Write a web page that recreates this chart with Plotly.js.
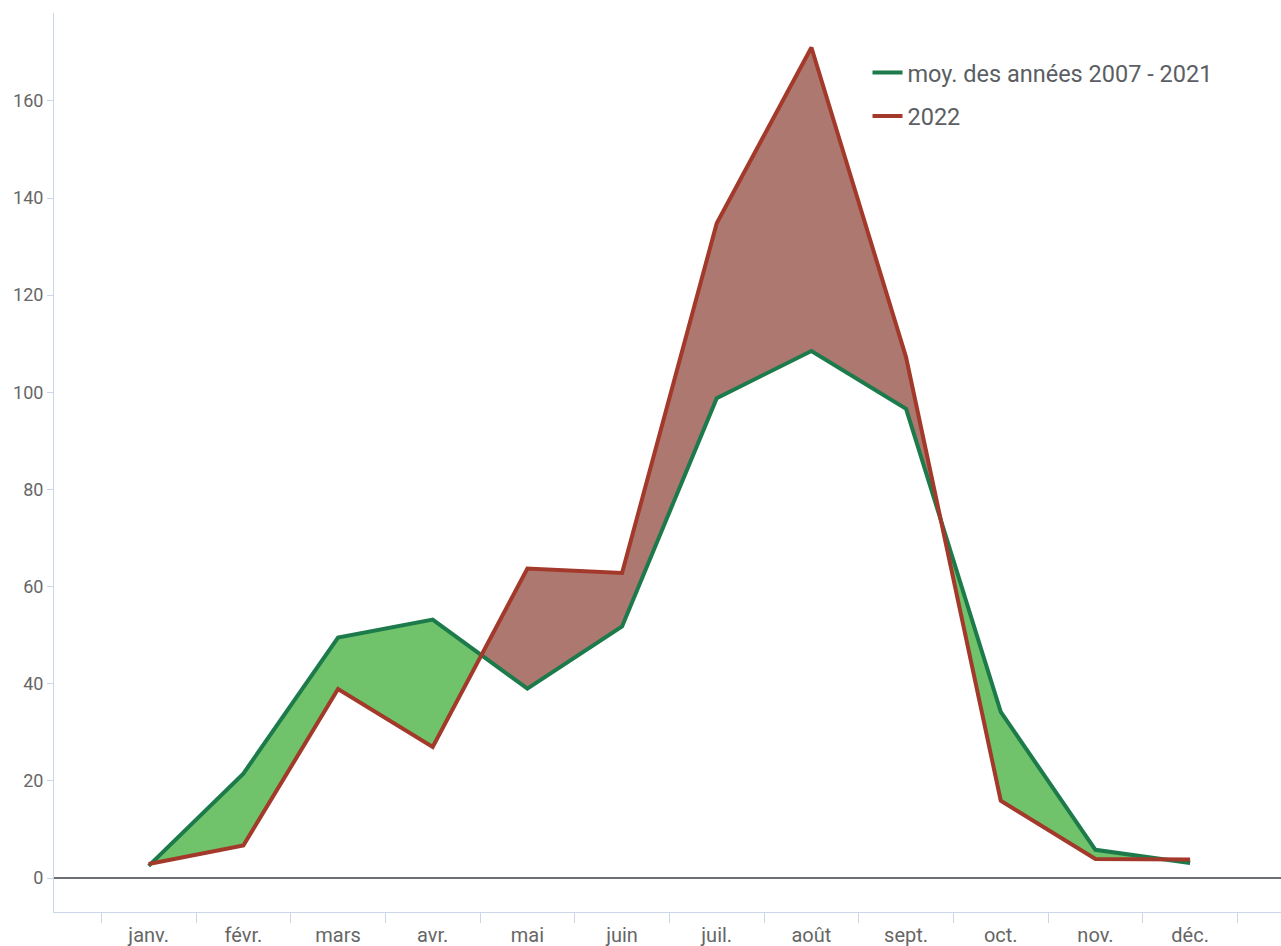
<!DOCTYPE html>
<html>
<head>
<meta charset="utf-8">
<script src="https://cdn.plot.ly/plotly-3.0.1.min.js"></script>
<style>
html,body{margin:0;padding:0;background:#fff;}
#chart{width:1281px;height:946px;}
</style>
</head>
<body>
<div id="chart"></div>
<script>
// ---- data ----
var months = ["janv.", "févr.", "mars", "avr.", "mai", "juin", "juil.", "août", "sept.", "oct.", "nov.", "déc."];
var avgName = "moy. des années 2007 - 2021";
var avgValues = [2.5, 21.5, 49.5, 53.2, 39, 51.8, 98.8, 108.5, 96.6, 34.2, 5.8, 3.1];
var y2022Name = "2022";
var y2022Values = [2.9, 6.7, 38.9, 27, 63.7, 62.8, 134.8, 171, 107.2, 15.9, 3.9, 3.8];
var yTicks = [0, 20, 40, 60, 80, 100, 120, 140, 160];

// ---- derived: month indices and crossing-aware fill arrays ----
var idx = months.map(function (m, i) { return i; });
var X = [], G = [], R = [];
for (var i = 0; i < idx.length; i++) {
  X.push(idx[i]); G.push(avgValues[i]); R.push(y2022Values[i]);
  if (i < idx.length - 1) {
    var d0 = avgValues[i] - y2022Values[i];
    var d1 = avgValues[i + 1] - y2022Values[i + 1];
    if (d0 * d1 < 0) {
      var t = d0 / (d0 - d1);
      var xc = idx[i] + t * (idx[i + 1] - idx[i]);
      var yc = avgValues[i] + t * (avgValues[i + 1] - avgValues[i]);
      X.push(xc); G.push(yc); R.push(yc);
    }
  }
}
var MIN = G.map(function (g, k) { return Math.min(g, R[k]); });

var greenLine = "#1c7a4b", greenFill = "#70c36a";
var redLine = "#a3392a", redFill = "#ad7870";
var clear = "rgba(0,0,0,0)";

var traces = [
  {x: X, y: MIN, mode: "lines", line: {width: 0, color: clear}, showlegend: false, hoverinfo: "skip"},
  {x: X, y: G, mode: "lines", line: {width: 0, color: clear}, fill: "tonexty", fillcolor: greenFill, showlegend: false, hoverinfo: "skip"},
  {x: X, y: MIN, mode: "lines", line: {width: 0, color: clear}, showlegend: false, hoverinfo: "skip"},
  {x: X, y: R, mode: "lines", line: {width: 0, color: clear}, fill: "tonexty", fillcolor: redFill, showlegend: false, hoverinfo: "skip"},
  {x: idx, y: avgValues, name: avgName, legendgroup: "a", mode: "lines", line: {color: greenLine, width: 4}},
  {x: idx, y: y2022Values, name: y2022Name, legendgroup: "b", mode: "lines", line: {color: redLine, width: 4}},
  // carrier for the month labels axis (invisible)
  {x: idx, y: avgValues, xaxis: "x2", mode: "lines", line: {width: 0, color: clear}, opacity: 0, showlegend: false, hoverinfo: "skip"}
];

var axisColor = "#ccd6eb";
var textColor = "#666666";
var boundaries = months.map(function (m, i) { return i - 0.5; }).concat([months.length - 0.5]);

var layout = {
  width: 1281, height: 946,
  margin: {l: 54, r: 0, t: 13, b: 34},
  paper_bgcolor: "#ffffff", plot_bgcolor: "#ffffff",
  font: {family: "Roboto, 'Open Sans', sans-serif", color: textColor, size: 18},
  showlegend: true,
  legend: {
    x: 0.663, y: 0.958, xanchor: "left", yanchor: "top",
    bgcolor: "rgba(0,0,0,0)",
    font: {size: 23.5, color: "#5b5e63"},
    traceorder: "grouped", tracegroupgap: 10,
    itemwidth: 30
  },
  xaxis: {
    type: "linear", range: [-1, 11.96], fixedrange: true,
    showgrid: false, zeroline: false,
    showline: true, linecolor: axisColor, linewidth: 1,
    tickmode: "array", tickvals: boundaries,
    ticks: "outside", ticklen: 10, tickcolor: axisColor, tickwidth: 1,
    showticklabels: false
  },
  xaxis2: {
    type: "linear", range: [-1, 11.96], overlaying: "x", side: "bottom", anchor: "y", fixedrange: true,
    showgrid: false, zeroline: false, showline: false,
    tickmode: "array", tickvals: idx, ticktext: months,
    ticks: "outside", ticklen: 5, tickcolor: clear,
    tickfont: {size: 20, color: textColor}
  },
  yaxis: {
    range: [-7, 178.1], fixedrange: true,
    showgrid: false,
    zeroline: true, zerolinecolor: "#6b6e73", zerolinewidth: 1.5,
    showline: true, linecolor: axisColor, linewidth: 1,
    tickmode: "array", tickvals: yTicks,
    ticks: "outside", ticklen: 6, tickcolor: axisColor,
    tickfont: {size: 18, color: textColor}
  }
};

Plotly.newPlot("chart", traces, layout, {displayModeBar: false, staticPlot: true});
</script>
</body>
</html>
